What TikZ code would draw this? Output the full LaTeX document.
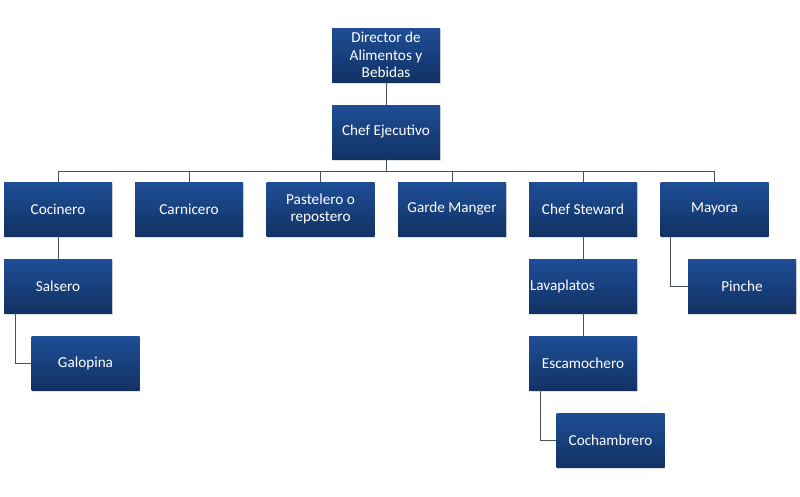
\documentclass[tikz,border=0pt]{standalone}
\usepackage{fontspec}
\setmainfont{Carlito}
\usetikzlibrary{shadows}
\definecolor{boxtop}{RGB}{30,78,150}
\definecolor{boxbot}{RGB}{18,50,100}
\definecolor{linec}{RGB}{70,82,96}
\begin{document}
\begin{tikzpicture}[x=1pt,y=-1pt,
  orgbox/.style={rectangle, minimum width=108pt, minimum height=54pt, inner sep=1pt,
    top color=boxtop, bottom color=boxbot, draw=none, text=white, align=center,
    font=\fontsize{15.2}{17.5}\selectfont,
    drop shadow={shadow xshift=0.5pt, shadow yshift=-1.5pt, opacity=0.25}},
  conn/.style={draw=linec, line width=0.9pt}]
\fill[white] (0,0) rectangle (800,496);
\useasboundingbox (0,0) rectangle (800,496);
\node[orgbox] (dir) at (386,55) {Director de\\Alimentos y\\Bebidas};
\node[orgbox] (chef) at (386,132) {Chef Ejecutivo};
\node[orgbox] (coc) at (58,209) {Cocinero};
\node[orgbox] (car) at (189,209) {Carnicero};
\node[orgbox] (pas) at (320.5,209) {Pastelero o\\repostero};
\node[orgbox] (gar) at (452,209) {Garde Manger};
\node[orgbox] (ste) at (583,209) {Chef Steward};
\node[orgbox] (may) at (714.5,209) {Mayora};
\node[orgbox] (sal) at (58,286) {Salsero};
\node[orgbox] (gal) at (85.5,363) {Galopina};
\node[orgbox, text width=106pt, align=left, inner sep=1pt] (lav) at (583,286) {Lavaplatos};
\node[orgbox] (esc) at (583,363) {Escamochero};
\node[orgbox] (coch) at (610.5,440) {Cochambrero};
\node[orgbox] (pin) at (742,286) {Pinche};
\coordinate (bus) at (386,171.5);
\draw[conn] (dir.south) -- (chef.north);
\draw[conn] (chef.south) -- (bus);
\draw[conn] (coc.north) |- (bus) -| (may.north);
\draw[conn] (car.north) -- (car.north |- bus);
\draw[conn] (pas.north) -- (pas.north |- bus);
\draw[conn] (gar.north) -- (gar.north |- bus);
\draw[conn] (ste.north) -- (ste.north |- bus);
\draw[conn] (coc.south) -- (sal.north);
\draw[conn] ([xshift=12pt]sal.south west) |- (gal.west);
\draw[conn] (ste.south) -- (lav.north);
\draw[conn] (lav.south) -- (esc.north);
\draw[conn] ([xshift=12pt]esc.south west) |- (coch.west);
\draw[conn] ([xshift=10pt]may.south west) |- (pin.west);
\end{tikzpicture}
\end{document}
